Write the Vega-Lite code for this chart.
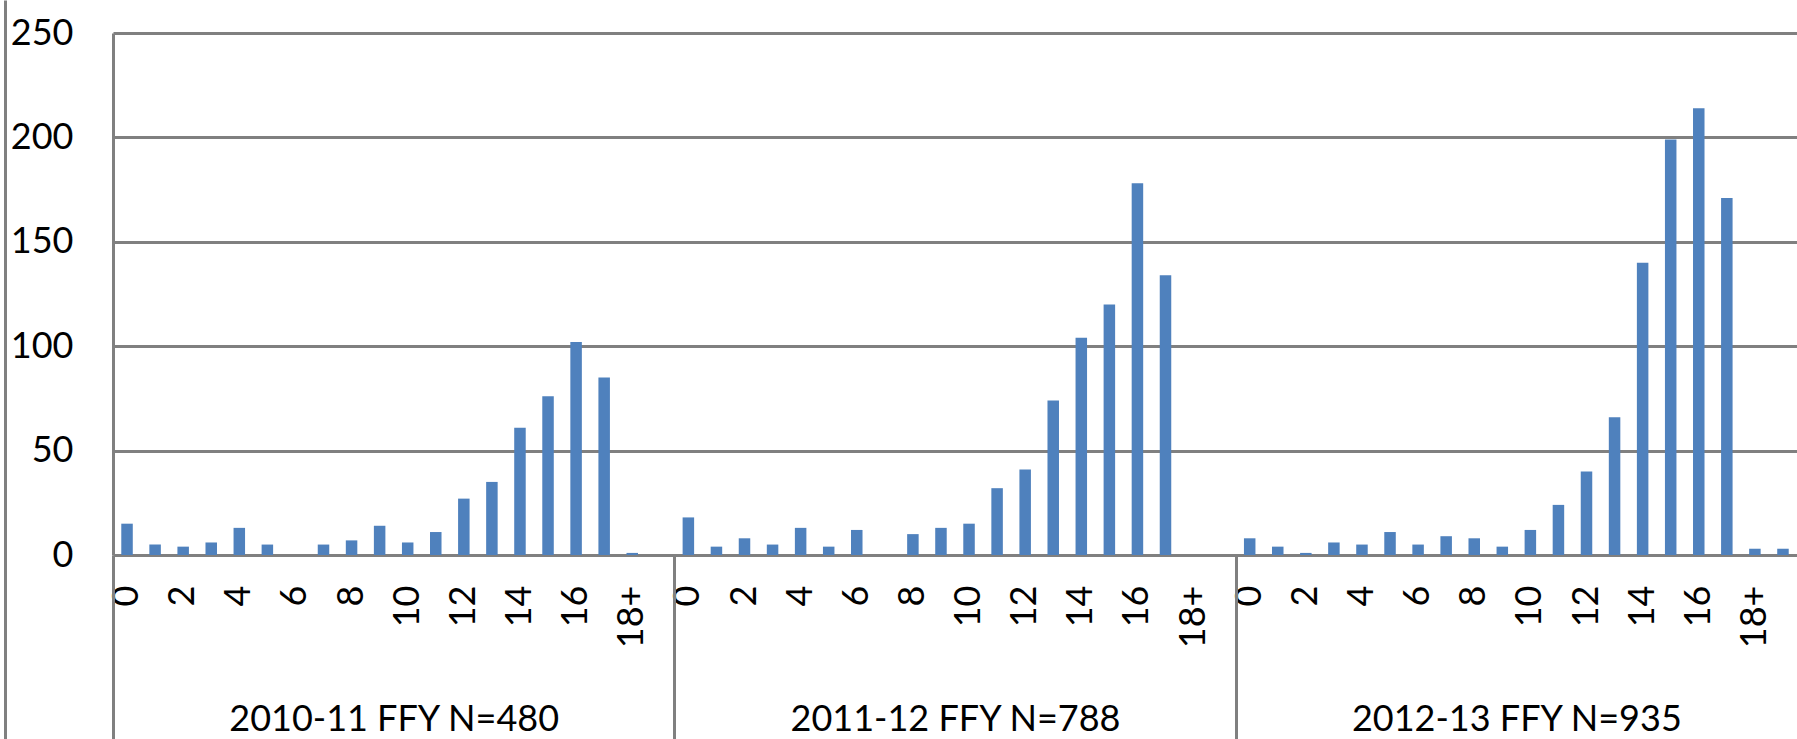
{
  "$schema": "https://vega.github.io/schema/vega-lite/v6.json",
  "autosize": "none",
  "padding": {"left": 113, "top": 33, "right": 0, "bottom": 184},
  "width": 1684,
  "height": 522,
  "background": "white",
  "config": {"view": {"stroke": null}, "font": "Lato"},
  "data": {"values": [
    {"period": "2010-11 FFY N=480", "age": "0", "key": "2010-11 FFY N=480|0", "count": 15},
    {"period": "2010-11 FFY N=480", "age": "1", "key": "2010-11 FFY N=480|1", "count": 5},
    {"period": "2010-11 FFY N=480", "age": "2", "key": "2010-11 FFY N=480|2", "count": 4},
    {"period": "2010-11 FFY N=480", "age": "3", "key": "2010-11 FFY N=480|3", "count": 6},
    {"period": "2010-11 FFY N=480", "age": "4", "key": "2010-11 FFY N=480|4", "count": 13},
    {"period": "2010-11 FFY N=480", "age": "5", "key": "2010-11 FFY N=480|5", "count": 5},
    {"period": "2010-11 FFY N=480", "age": "6", "key": "2010-11 FFY N=480|6", "count": 0},
    {"period": "2010-11 FFY N=480", "age": "7", "key": "2010-11 FFY N=480|7", "count": 5},
    {"period": "2010-11 FFY N=480", "age": "8", "key": "2010-11 FFY N=480|8", "count": 7},
    {"period": "2010-11 FFY N=480", "age": "9", "key": "2010-11 FFY N=480|9", "count": 14},
    {"period": "2010-11 FFY N=480", "age": "10", "key": "2010-11 FFY N=480|10", "count": 6},
    {"period": "2010-11 FFY N=480", "age": "11", "key": "2010-11 FFY N=480|11", "count": 11},
    {"period": "2010-11 FFY N=480", "age": "12", "key": "2010-11 FFY N=480|12", "count": 27},
    {"period": "2010-11 FFY N=480", "age": "13", "key": "2010-11 FFY N=480|13", "count": 35},
    {"period": "2010-11 FFY N=480", "age": "14", "key": "2010-11 FFY N=480|14", "count": 61},
    {"period": "2010-11 FFY N=480", "age": "15", "key": "2010-11 FFY N=480|15", "count": 76},
    {"period": "2010-11 FFY N=480", "age": "16", "key": "2010-11 FFY N=480|16", "count": 102},
    {"period": "2010-11 FFY N=480", "age": "17", "key": "2010-11 FFY N=480|17", "count": 85},
    {"period": "2010-11 FFY N=480", "age": "18+", "key": "2010-11 FFY N=480|18+", "count": 1},
    {"period": "2010-11 FFY N=480", "age": "Unknown", "key": "2010-11 FFY N=480|Unknown", "count": 0},
    {"period": "2011-12 FFY N=788", "age": "0", "key": "2011-12 FFY N=788|0", "count": 18},
    {"period": "2011-12 FFY N=788", "age": "1", "key": "2011-12 FFY N=788|1", "count": 4},
    {"period": "2011-12 FFY N=788", "age": "2", "key": "2011-12 FFY N=788|2", "count": 8},
    {"period": "2011-12 FFY N=788", "age": "3", "key": "2011-12 FFY N=788|3", "count": 5},
    {"period": "2011-12 FFY N=788", "age": "4", "key": "2011-12 FFY N=788|4", "count": 13},
    {"period": "2011-12 FFY N=788", "age": "5", "key": "2011-12 FFY N=788|5", "count": 4},
    {"period": "2011-12 FFY N=788", "age": "6", "key": "2011-12 FFY N=788|6", "count": 12},
    {"period": "2011-12 FFY N=788", "age": "7", "key": "2011-12 FFY N=788|7", "count": 0},
    {"period": "2011-12 FFY N=788", "age": "8", "key": "2011-12 FFY N=788|8", "count": 10},
    {"period": "2011-12 FFY N=788", "age": "9", "key": "2011-12 FFY N=788|9", "count": 13},
    {"period": "2011-12 FFY N=788", "age": "10", "key": "2011-12 FFY N=788|10", "count": 15},
    {"period": "2011-12 FFY N=788", "age": "11", "key": "2011-12 FFY N=788|11", "count": 32},
    {"period": "2011-12 FFY N=788", "age": "12", "key": "2011-12 FFY N=788|12", "count": 41},
    {"period": "2011-12 FFY N=788", "age": "13", "key": "2011-12 FFY N=788|13", "count": 74},
    {"period": "2011-12 FFY N=788", "age": "14", "key": "2011-12 FFY N=788|14", "count": 104},
    {"period": "2011-12 FFY N=788", "age": "15", "key": "2011-12 FFY N=788|15", "count": 120},
    {"period": "2011-12 FFY N=788", "age": "16", "key": "2011-12 FFY N=788|16", "count": 178},
    {"period": "2011-12 FFY N=788", "age": "17", "key": "2011-12 FFY N=788|17", "count": 134},
    {"period": "2011-12 FFY N=788", "age": "18+", "key": "2011-12 FFY N=788|18+", "count": 0},
    {"period": "2011-12 FFY N=788", "age": "Unknown", "key": "2011-12 FFY N=788|Unknown", "count": 0},
    {"period": "2012-13 FFY N=935", "age": "0", "key": "2012-13 FFY N=935|0", "count": 8},
    {"period": "2012-13 FFY N=935", "age": "1", "key": "2012-13 FFY N=935|1", "count": 4},
    {"period": "2012-13 FFY N=935", "age": "2", "key": "2012-13 FFY N=935|2", "count": 1},
    {"period": "2012-13 FFY N=935", "age": "3", "key": "2012-13 FFY N=935|3", "count": 6},
    {"period": "2012-13 FFY N=935", "age": "4", "key": "2012-13 FFY N=935|4", "count": 5},
    {"period": "2012-13 FFY N=935", "age": "5", "key": "2012-13 FFY N=935|5", "count": 11},
    {"period": "2012-13 FFY N=935", "age": "6", "key": "2012-13 FFY N=935|6", "count": 5},
    {"period": "2012-13 FFY N=935", "age": "7", "key": "2012-13 FFY N=935|7", "count": 9},
    {"period": "2012-13 FFY N=935", "age": "8", "key": "2012-13 FFY N=935|8", "count": 8},
    {"period": "2012-13 FFY N=935", "age": "9", "key": "2012-13 FFY N=935|9", "count": 4},
    {"period": "2012-13 FFY N=935", "age": "10", "key": "2012-13 FFY N=935|10", "count": 12},
    {"period": "2012-13 FFY N=935", "age": "11", "key": "2012-13 FFY N=935|11", "count": 24},
    {"period": "2012-13 FFY N=935", "age": "12", "key": "2012-13 FFY N=935|12", "count": 40},
    {"period": "2012-13 FFY N=935", "age": "13", "key": "2012-13 FFY N=935|13", "count": 66},
    {"period": "2012-13 FFY N=935", "age": "14", "key": "2012-13 FFY N=935|14", "count": 140},
    {"period": "2012-13 FFY N=935", "age": "15", "key": "2012-13 FFY N=935|15", "count": 199},
    {"period": "2012-13 FFY N=935", "age": "16", "key": "2012-13 FFY N=935|16", "count": 214},
    {"period": "2012-13 FFY N=935", "age": "17", "key": "2012-13 FFY N=935|17", "count": 171},
    {"period": "2012-13 FFY N=935", "age": "18+", "key": "2012-13 FFY N=935|18+", "count": 3},
    {"period": "2012-13 FFY N=935", "age": "Unknown", "key": "2012-13 FFY N=935|Unknown", "count": 3}
  ]},
  "layer": [
    {
      "mark": {"type": "bar", "color": "#4F81BD", "width": {"band": 0.41}},
      "encoding": {
        "x": {
          "field": "key", "type": "nominal", "sort": null,
          "scale": {"paddingInner": 0, "paddingOuter": 0},
          "axis": {
            "orient": "bottom", "offset": 0, "title": null, "domain": false, "ticks": false, "tickSize": 0,
            "labelAngle": 270, "labelPadding": 30, "labelFontSize": 36, "labelColor": "#000000",
            "labelOverlap": false,
            "labelExpr": "indexof(['0','2','4','6','8','10','12','14','16','18+'], split(datum.value,'|')[1]) >= 0 ? split(datum.value,'|')[1] : ''"
          }
        },
        "y": {
          "field": "count", "type": "quantitative",
          "scale": {"domain": [0, 250], "nice": false},
          "axis": {
            "title": null, "values": [0, 50, 100, 150, 200, 250], "grid": true,
            "gridColor": "#808080", "gridWidth": 3, "gridOpacity": 1,
            "domain": true, "domainColor": "#808080", "domainWidth": 3,
            "ticks": false, "tickSize": 0, "labelPadding": 40,
            "labelFontSize": 36, "labelColor": "#000000"
          }
        }
      }
    },
    {
      "mark": {"type": "rule", "opacity": 0},
      "encoding": {
        "x": {
          "field": "key", "type": "nominal", "sort": null,
          "axis": {
            "orient": "bottom", "offset": 0, "title": null,
            "values": ["2010-11 FFY N=480|0", "2011-12 FFY N=788|0", "2012-13 FFY N=935|0"],
            "domain": false, "ticks": true, "tickSize": 184, "tickWidth": 3, "tickColor": "#808080",
            "tickOffset": -14.033, "labelOffset": 280.67, "labelPadding": -9,
            "labelBaseline": "alphabetic", "labelAngle": 0, "labelAlign": "center",
            "labelFontSize": 36, "labelColor": "#000000", "labelLimit": 0,
            "labelExpr": "split(datum.value,'|')[0]"
          }
        }
      }
    },
    {
      "mark": {"type": "rule", "opacity": 0},
      "encoding": {
        "x": {
          "field": "key", "type": "nominal", "sort": null,
          "axis": {
            "orient": "bottom", "offset": 184, "title": null,
            "values": ["2010-11 FFY N=480|0"],
            "domain": false, "labels": false, "ticks": true, "tickSize": -739, "tickWidth": 3,
            "tickColor": "#808080", "tickOffset": -122
          }
        }
      }
    }
  ],
  "resolve": {"axis": {"x": "independent"}}
}
